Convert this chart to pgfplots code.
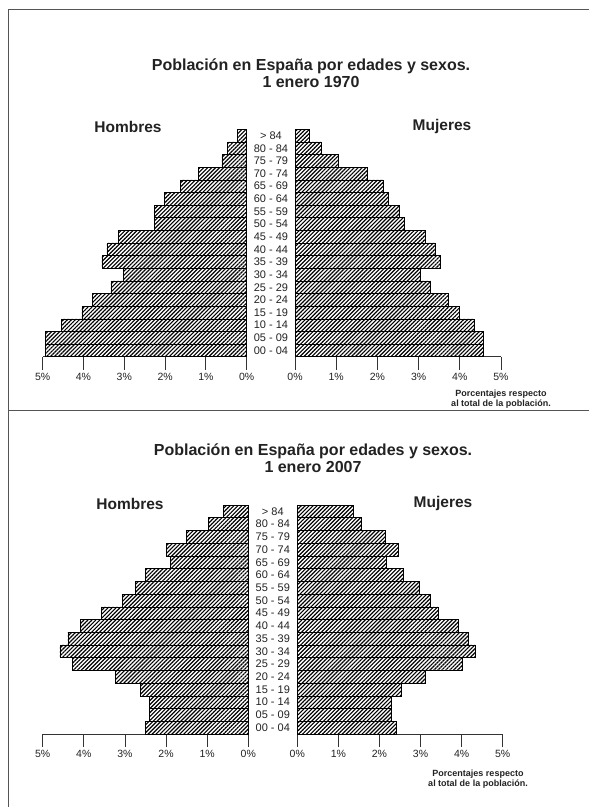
\documentclass[border=0pt]{standalone}
\usepackage{fontspec}
\setmainfont{Liberation Sans}
\usepackage{pgfplots}
\pgfplotsset{compat=1.18}
\usepackage{pgfplotstable}
\usetikzlibrary{patterns.meta}
\definecolor{txt}{HTML}{222222}
\definecolor{framec}{HTML}{555555}

% y: 0 = 00-04 ... 17 = >84
\pgfplotstableread{
y m70 f70 m07 f07
0 4.94 4.56 2.50 2.42
1 4.94 4.56 2.41 2.28
2 4.55 4.36 2.41 2.28
3 4.04 3.99 2.62 2.54
4 3.79 3.71 3.24 3.11
5 3.33 3.29 4.27 4.02
6 3.02 3.04 4.58 4.33
7 3.55 3.53 4.39 4.16
8 3.43 3.40 4.09 3.92
9 3.15 3.16 3.57 3.42
10 2.26 2.66 3.06 3.23
11 2.26 2.53 2.75 2.97
12 2.01 2.27 2.50 2.58
13 1.62 2.13 1.90 2.17
14 1.18 1.75 2.00 2.46
15 0.61 1.06 1.50 2.13
16 0.47 0.63 0.97 1.55
17 0.23 0.35 0.61 1.36
}\pyrdata

\pgfplotsset{
  pyr/.style={
    xbar, scale only axis,
    xmin=0, xmax=5, ymin=-0.5, ymax=17.5, enlargelimits=false,
    axis x line*=bottom,
    x axis line style={-, line width=0.8pt, draw=black!80},
    xtick={0,1,2,3,4,5}, xticklabels={0\%,1\%,2\%,3\%,4\%,5\%},
    tick align=outside, major tick length=13pt,
    xtick style={line width=0.8pt, draw=black!80},
    xticklabel style={font=\fontsize{10.5}{12}\selectfont, text=txt},
    bar width=1,
    clip=false,
  },
  pyrL/.style={pyr, x dir=reverse, axis y line=none},
  pyrR/.style={pyr, axis y line*=left, y axis line style={draw=none},
    ytick={0,...,17},
    yticklabels={00 - 04,05 - 09,10 - 14,15 - 19,20 - 24,25 - 29,30 - 34,35 - 39,40 - 44,45 - 49,50 - 54,55 - 59,60 - 64,65 - 69,70 - 74,75 - 79,80 - 84,> 84},
    ytick style={draw=none},
    yticklabel style={anchor=center, inner sep=0pt, font=\fontsize{11}{11}\selectfont, text=txt},
  },
  hatch/.style={draw=black, line width=0.5pt,
    pattern={Lines[angle=45,distance=2.8pt,line width=1.15pt]}, pattern color=black},
}

\begin{document}
\begin{tikzpicture}
\useasboundingbox (0pt,0pt) rectangle (589pt,807pt);
% frame
\draw[framec, line width=1pt] (8pt,0pt) -- (8pt,797pt) -- (589pt,797pt);
\draw[framec, line width=1pt] (8pt,396pt) -- (589pt,396pt);

% ---------- 1970 ----------
\node[font=\fontsize{16}{16.7}\selectfont\bfseries, text=txt, align=center] at (311pt,733.7pt)
  {Población en España por edades y sexos.\\1 enero 1970};
\node[font=\fontsize{15.5}{17}\selectfont\bfseries, text=txt] at (128pt,680pt) {Hombres};
\node[font=\fontsize{15.5}{17}\selectfont\bfseries, text=txt] at (442pt,681pt) {Mujeres};
\node[font=\fontsize{9}{10}\selectfont\bfseries, text=txt, align=center] at (501pt,408pt)
  {Porcentajes respecto\\al total de la población.};

\begin{axis}[pyrL, at={(42.7pt,450.3pt)}, anchor=south west, width=204pt, height=227.4pt]
\addplot[hatch] table[x=m70, y=y] {\pyrdata};
\end{axis}
\begin{axis}[pyrR, at={(295pt,450.3pt)}, anchor=south west, width=206pt, height=227.4pt,
  yticklabel style={xshift=-11pt}]
\addplot[hatch] table[x=f70, y=y] {\pyrdata};
\end{axis}

% ---------- 2007 ----------
\node[font=\fontsize{16}{16.7}\selectfont\bfseries, text=txt, align=center] at (313pt,349pt)
  {Población en España por edades y sexos.\\1 enero 2007};
\node[font=\fontsize{15.5}{17}\selectfont\bfseries, text=txt] at (130pt,303pt) {Hombres};
\node[font=\fontsize{15.5}{17}\selectfont\bfseries, text=txt] at (443pt,304pt) {Mujeres};
\node[font=\fontsize{9}{10}\selectfont\bfseries, text=txt, align=center] at (478pt,28pt)
  {Porcentajes respecto\\al total de la población.};

\begin{axis}[pyrL, at={(42.7pt,73pt)}, anchor=south west, width=205.6pt, height=229pt]
\addplot[hatch] table[x=m07, y=y] {\pyrdata};
\end{axis}
\begin{axis}[pyrR, at={(297.3pt,73pt)}, anchor=south west, width=205.4pt, height=229pt,
  yticklabel style={xshift=-11.5pt}]
\addplot[hatch] table[x=f07, y=y] {\pyrdata};
\end{axis}
\end{tikzpicture}
\end{document}
